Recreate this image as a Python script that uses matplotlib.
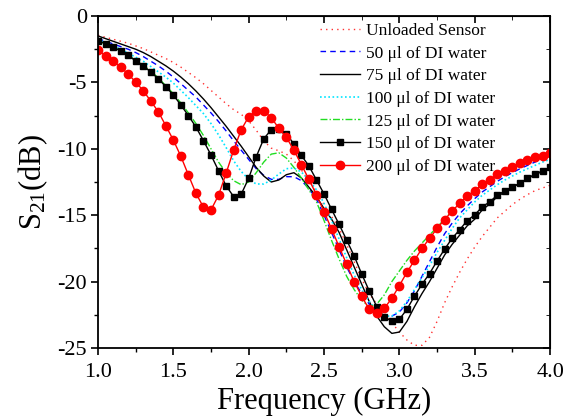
import numpy as np
import matplotlib
matplotlib.use("Agg")
import matplotlib.pyplot as plt
from matplotlib.ticker import MultipleLocator, FormatStrFormatter

plt.rcParams['font.family'] = ['Liberation Serif', 'DejaVu Serif']
plt.rcParams['mathtext.fontset'] = 'custom'
plt.rcParams['mathtext.rm'] = 'Liberation Serif'
plt.rcParams['mathtext.it'] = 'Liberation Serif:italic'
plt.rcParams['axes.unicode_minus'] = False

freq = np.round(np.arange(1.0, 4.0001, 0.05), 2)

unloaded = [-1.45, -1.6, -1.75, -1.9, -2.05, -2.25, -2.45, -2.7, -2.95, -3.2,
            -3.5, -3.85, -4.25, -4.65, -5.1, -5.6, -6.1, -6.6, -7.05, -7.4,
            -7.9, -8.6, -9.4, -9.95, -10.15, -10.4, -10.9, -11.6, -12.4, -13.3,
            -14.2, -15.1, -16.0, -17.2, -18.5, -19.8, -20.9, -21.7, -22.4, -23.1,
            -23.8, -24.4, -24.8, -24.8, -24.2, -23.0, -21.6, -20.4, -19.3, -18.3,
            -17.4, -16.6, -15.9, -15.2, -14.7, -14.2, -13.8, -13.45, -13.15, -12.95,
            -12.75]
w50 = [-1.7, -1.9, -2.1, -2.3, -2.5, -2.75, -3.05, -3.4, -3.75, -4.15,
       -4.6, -5.1, -5.6, -6.1, -6.7, -7.3, -7.95, -8.65, -9.4, -10.1,
       -10.8, -11.5, -12.0, -12.3, -12.3, -12.1, -12.1, -12.4, -13.0, -13.8,
       -15.0, -16.3, -17.6, -18.9, -20.0, -20.9, -21.7, -22.3, -22.6, -22.6,
       -22.3, -21.6, -20.7, -19.6, -18.5, -17.4, -16.4, -15.6, -14.9, -14.3,
       -13.75, -13.25, -12.85, -12.45, -12.1, -11.8, -11.5, -11.25, -11.0, -10.75,
       -10.55]
w75 = [-1.5, -1.7, -1.9, -2.1, -2.3, -2.5, -2.75, -3.05, -3.4, -3.75,
       -4.15, -4.6, -5.1, -5.65, -6.25, -6.9, -7.6, -8.3, -9.05, -9.8,
       -10.6, -11.4, -12.05, -12.5, -12.35, -11.95, -11.8, -12.2, -12.9, -13.6,
       -14.5, -15.3, -16.3, -17.6, -18.9, -20.2, -21.5, -22.6, -23.4, -23.9,
       -23.8, -23.0, -21.9, -20.9, -20.0, -19.0, -18.0, -17.2, -16.5, -15.8,
       -15.3, -14.6, -14.15, -13.6, -13.25, -12.9, -12.6, -12.25, -11.95, -11.7,
       -11.45]
w100 = [-1.8, -2.0, -2.25, -2.5, -2.8, -3.1, -3.4, -3.8, -4.2, -4.6,
        -5.05, -5.6, -6.15, -6.75, -7.35, -8.1, -8.95, -9.9, -10.9, -11.7,
        -12.3, -12.65, -12.65, -12.35, -11.9, -11.5, -11.45, -11.75, -12.35, -13.1,
        -14.1, -15.4, -16.8, -18.2, -19.5, -20.6, -21.5, -22.2, -22.6, -22.6,
        -22.2, -21.5, -20.6, -19.7, -18.8, -17.8, -16.9, -16.0, -15.2, -14.6,
        -14.0, -13.5, -13.1, -12.7, -12.35, -12.05, -11.75, -11.5, -11.25, -11.0,
        -10.8]
w125 = [-1.9, -2.1, -2.35, -2.65, -2.95, -3.35, -3.7, -4.15, -4.65, -5.25,
        -5.85, -6.55, -7.3, -8.1, -9.0, -10.0, -11.0, -11.8, -12.4, -12.7,
        -12.5, -11.8, -11.0, -10.4, -10.3, -10.7, -11.4, -12.2, -13.1, -14.0,
        -15.4, -16.9, -18.3, -19.6, -20.6, -21.4, -21.9, -21.7, -21.0, -20.0,
        -19.2, -18.4, -17.7, -17.1, -16.5, -15.9, -15.3, -14.7, -14.1, -13.55,
        -13.15, -12.7, -12.35, -11.95, -11.65, -11.35, -11.1, -10.85, -10.65, -10.5,
        -10.3]
w150 = [-1.86, -2.08, -2.31, -2.64, -2.94, -3.39, -3.74, -4.22, -4.72, -5.32,
        -5.95, -6.7, -7.5, -8.36, -9.39, -10.47, -11.65, -12.78, -13.6, -13.43,
        -12.22, -10.6, -9.25, -8.55, -8.5, -8.85, -9.65, -10.5, -11.3, -12.35,
        -13.4, -14.56, -15.69, -16.87, -18.07, -19.43, -20.7, -21.89, -22.7, -22.97,
        -22.84, -22.09, -21.1, -20.2, -19.4, -18.45, -17.56, -16.74, -16.1, -15.4,
        -14.98, -14.36, -14.0, -13.48, -13.18, -12.85, -12.6, -12.22, -11.92, -11.65,
        -11.4]
w200 = [-2.56, -2.99, -3.39, -3.84, -4.37, -4.97, -5.62, -6.4, -7.2, -8.26,
        -9.34, -10.57, -11.97, -13.35, -14.4, -14.6, -13.5, -11.85, -10.1, -8.58,
        -7.58, -7.15, -7.15, -7.65, -8.46, -9.14, -10.1, -11.2, -12.3, -13.48,
        -14.73, -16.04, -17.37, -18.7, -20.0, -21.1, -22.1, -22.4, -22.0, -21.26,
        -20.3, -19.3, -18.4, -17.5, -16.75, -16.0, -15.33, -14.7, -14.1, -13.55,
        -13.18, -12.65, -12.35, -11.92, -11.67, -11.35, -11.09, -10.84, -10.64, -10.52,
        -10.29]

labels = ["Unloaded Sensor", "50 μl of DI water", "75 μl of DI water",
          "100 μl of DI water", "125 μl of DI water", "150 μl of DI water",
          "200 μl of DI water"]

fig = plt.figure(figsize=(5.73, 4.16), dpi=100)
ax = fig.add_axes([0.171, 0.1635, 0.789, 0.798])

ax.plot(freq, unloaded, color='#ff3030', linestyle=(0, (1, 3)), lw=1.0, label=labels[0])
ax.plot(freq, w50, color='#0000ff', linestyle=(0, (4, 3)), lw=1.0, label=labels[1])
ax.plot(freq, w75, color='black', linestyle='-', lw=1.0, label=labels[2])
ax.plot(freq, w100, color='#00e5ff', linestyle=(0, (1, 1.5)), lw=1.2, label=labels[3])
ax.plot(freq, w125, color='#22dd22', linestyle=(0, (5, 1.5, 1, 1.5)), lw=1.0, label=labels[4])
ax.plot(freq, w150, color='black', linestyle='-', lw=1.0, marker='s', markersize=4.8, label=labels[5])
ax.plot(freq, w200, color='#ff0000', linestyle='-', lw=1.0, marker='o', markersize=6, label=labels[6])

ax.set_xlim(1.0, 4.0)
ax.set_ylim(-25, 0)
ax.xaxis.set_major_locator(MultipleLocator(0.5))
ax.xaxis.set_minor_locator(MultipleLocator(0.25))
ax.yaxis.set_major_locator(MultipleLocator(5))
ax.yaxis.set_minor_locator(MultipleLocator(2.5))
ax.xaxis.set_major_formatter(FormatStrFormatter('%.1f'))
ax.tick_params(which='major', direction='out', length=5, width=1.2, labelsize=16)
ax.tick_params(which='minor', direction='out', length=3, width=1.0)
ax.tick_params(axis='x', which='major', pad=6)
ax.tick_params(axis='y', which='major', pad=3)
for s in ax.spines.values():
    s.set_linewidth(1.3)

secx = ax.secondary_xaxis('top')
secx.xaxis.set_major_locator(MultipleLocator(0.5))
secx.xaxis.set_minor_locator(MultipleLocator(0.25))
secx.tick_params(which='both', direction='in', labeltop=False)
secx.tick_params(which='major', length=5, width=1.2)
secx.tick_params(which='minor', length=3)
secy = ax.secondary_yaxis('right')
secy.yaxis.set_major_locator(MultipleLocator(5))
secy.yaxis.set_minor_locator(MultipleLocator(2.5))
secy.tick_params(which='both', direction='in', labelright=False)
secy.tick_params(which='major', length=5, width=1.2)
secy.tick_params(which='minor', length=3)

ax.set_xlabel('Frequency (GHz)', fontsize=22, labelpad=3)
ax.set_ylabel(r'S$_{21}$(dB)', fontsize=22, labelpad=5)

leg = ax.legend(loc='upper left', bbox_to_anchor=(0.472, 1.006), frameon=False,
                fontsize=12.5, handlelength=2.3, handletextpad=0.35,
                labelspacing=0.375, borderaxespad=0.2, borderpad=0.3)

fig.savefig('out.png', dpi=100)
